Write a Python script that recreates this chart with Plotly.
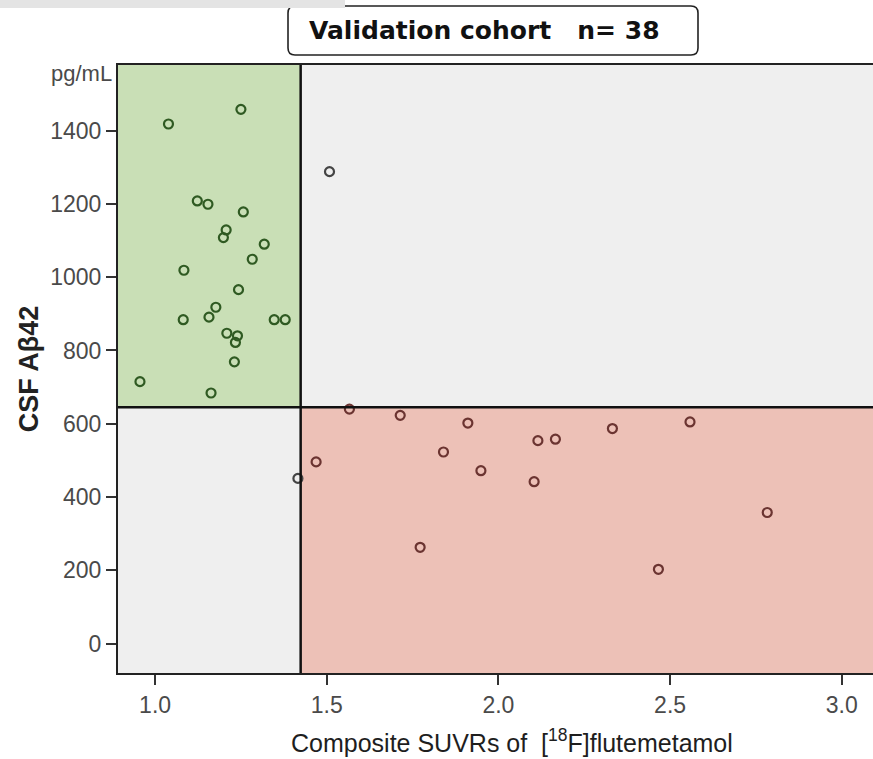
import plotly.graph_objects as go

# ---- data ----
green_x = [1.039, 1.250, 1.123, 1.154, 1.257, 1.207, 1.199, 1.318, 1.283, 1.084, 1.243,
           1.177, 1.157, 1.082, 1.347, 1.379, 1.209, 1.240, 1.234, 1.231, 0.956, 1.163]
green_y = [1418, 1458, 1208, 1199, 1178, 1129, 1108, 1090, 1049, 1019, 966,
           918, 891, 884, 884, 884, 847, 840, 822, 769, 715, 684]
red_x = [1.566, 1.714, 1.911, 1.469, 1.840, 1.949, 2.115, 2.166, 2.104, 1.772,
         2.332, 2.558, 2.783, 2.466]
red_y = [640, 623, 602, 496, 523, 472, 554, 558, 442, 263,
         587, 605, 358, 203]
gray_x = [1.508, 1.416]
gray_y = [1288, 451]

SUVR_CUTOFF = 1.424
ABETA_CUTOFF = 645
X_RANGE = [0.892, 3.091]
Y_RANGE = [-80, 1579]
x_ticks = [1.0, 1.5, 2.0, 2.5, 3.0]
y_ticks = [0, 200, 400, 600, 800, 1000, 1200, 1400]

W, H = 873, 759
ML, MR, MT, MB = 118, 0, 65, 86
PW, PH = W - ML - MR, H - MT - MB


def px(xp):
    return (xp - ML) / PW


def py(yp):
    return (H - MB - yp) / PH


FONT = "Liberation Sans, Arial, sans-serif"

fig = go.Figure()

marker_common = dict(symbol="circle-open", size=9)
fig.add_trace(go.Scatter(x=green_x, y=green_y, mode="markers",
                         marker=dict(color="#2f5a22", line=dict(width=2.2), **marker_common),
                         showlegend=False))
fig.add_trace(go.Scatter(x=red_x, y=red_y, mode="markers",
                         marker=dict(color="#6b3431", line=dict(width=2.2), **marker_common),
                         showlegend=False))
fig.add_trace(go.Scatter(x=gray_x, y=gray_y, mode="markers",
                         marker=dict(color="#444444", line=dict(width=2.2), **marker_common),
                         showlegend=False))

shapes = []
# quadrant fills
shapes.append(dict(type="rect", xref="x", yref="y", x0=X_RANGE[0], x1=SUVR_CUTOFF,
                   y0=ABETA_CUTOFF, y1=Y_RANGE[1], fillcolor="#c9dfb6", line_width=0, layer="below"))
shapes.append(dict(type="rect", xref="x", yref="y", x0=SUVR_CUTOFF, x1=X_RANGE[1],
                   y0=Y_RANGE[0], y1=ABETA_CUTOFF, fillcolor="#edc1b7", line_width=0, layer="below"))
# cutoff lines
shapes.append(dict(type="line", xref="x", yref="y", x0=SUVR_CUTOFF, x1=SUVR_CUTOFF,
                   y0=Y_RANGE[0], y1=Y_RANGE[1], line=dict(color="#111111", width=2.5)))
shapes.append(dict(type="line", xref="x", yref="y", x0=X_RANGE[0], x1=X_RANGE[1],
                   y0=ABETA_CUTOFF, y1=ABETA_CUTOFF, line=dict(color="#111111", width=2.5)))

# title box (rounded rectangle) in paper coords
bx0, bx1, by0, by1, r = 288, 698, 6, 55, 7
def P(x, y):
    return f"{px(x):.5f},{py(y):.5f}"
path = (f"M {P(bx0 + r, by0)} L {P(bx1 - r, by0)} Q {P(bx1, by0)} {P(bx1, by0 + r)} "
        f"L {P(bx1, by1 - r)} Q {P(bx1, by1)} {P(bx1 - r, by1)} "
        f"L {P(bx0 + r, by1)} Q {P(bx0, by1)} {P(bx0, by1 - r)} "
        f"L {P(bx0, by0 + r)} Q {P(bx0, by0)} {P(bx0 + r, by0)} Z")
shapes.append(dict(type="path", xref="paper", yref="paper", path=path,
                   fillcolor="white", line=dict(color="#222222", width=1.6)))
# faint gray band at top-left of screenshot
shapes.append(dict(type="rect", xref="paper", yref="paper", x0=px(0), x1=px(345),
                   y0=py(8), y1=py(0), fillcolor="#e4e4e4", line_width=0))

annotations = [
    dict(text="<b>Validation cohort   n= 38</b>", xref="paper", yref="paper",
         x=px(484), y=py(31), showarrow=False, xanchor="center", yanchor="middle",
         font=dict(family="DejaVu Sans, sans-serif", size=25, color="#111111")),
    dict(text="pg/mL", xref="paper", yref="paper", x=px(114), y=py(73),
         showarrow=False, xanchor="right", yanchor="middle",
         font=dict(family=FONT, size=22, color="#4a4a4a")),
    dict(text="Composite SUVRs of  [<sup>18</sup>F]flutemetamol", xref="paper", yref="paper",
         x=px(512), y=py(741), showarrow=False, xanchor="center", yanchor="middle",
         borderpad=0, font=dict(family=FONT, size=25, color="#1e1e1e")),
]

fig.update_layout(
    width=W, height=H,
    margin=dict(l=ML, r=MR, t=MT, b=MB, autoexpand=False),
    paper_bgcolor="white", plot_bgcolor="#efefef",
    shapes=shapes, annotations=annotations,
    font=dict(family=FONT),
    xaxis=dict(range=X_RANGE, tickvals=x_ticks, ticktext=[f"{v:.1f}" for v in x_ticks],
               showgrid=False, zeroline=False, showline=True, linecolor="#222222", linewidth=2,
               mirror=True, ticks="outside", ticklen=10, tickwidth=2, tickcolor="#333333",
               tickfont=dict(size=23, color="#4a4a4a")),
    yaxis=dict(range=Y_RANGE, tickvals=y_ticks, showgrid=False, zeroline=False,
               showline=True, linecolor="#222222", linewidth=2, mirror=False,
               ticks="outside", ticklen=10, tickwidth=2, tickcolor="#333333",
               tickfont=dict(size=23, color="#4a4a4a"),
               title=dict(text="<b>CSF Aβ42</b>", font=dict(size=27, color="#222222"),
                          standoff=4)),
)

fig.write_html("out.html")
